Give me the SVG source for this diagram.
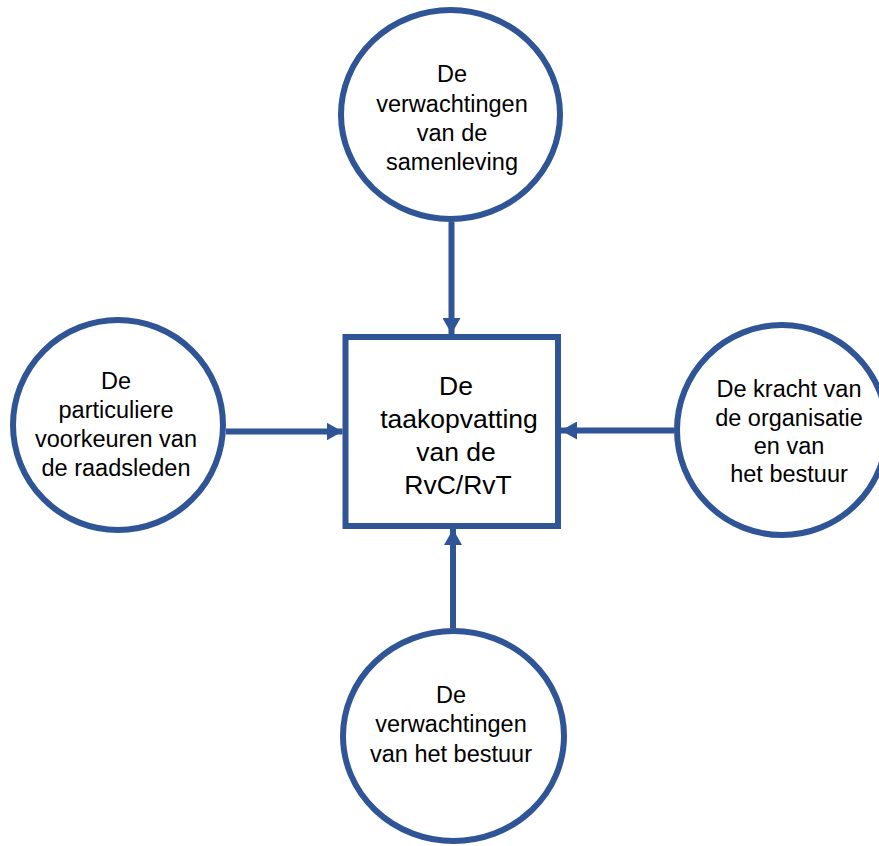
<svg xmlns="http://www.w3.org/2000/svg" width="879" height="846" viewBox="0 0 879 846">
<style>
.node{fill:#FFFFFF;stroke:#2F5597;stroke-width:6}
.t{font-family:"Liberation Sans",Arial,sans-serif;font-size:23.5px;fill:#000000;text-anchor:middle}
.tb{font-family:"Liberation Sans",Arial,sans-serif;font-size:26.5px;fill:#000000;text-anchor:middle}
.conn{stroke:#2F5597;stroke-width:6;fill:none}
</style>
<defs>
<marker id="arr" markerUnits="userSpaceOnUse" markerWidth="16" markerHeight="18" refX="16" refY="9" orient="auto" viewBox="0 0 16 18">
<path d="M0,0 L16,9 L0,18 z" fill="#2F5597"/>
</marker>
</defs>
<rect width="879" height="846" fill="#FFFFFF"/>
<g id="connectors">
<line class="conn" x1="451.5" y1="222" x2="451.5" y2="334" marker-end="url(#arr)"/>
<line class="conn" x1="226" y1="431.5" x2="342.5" y2="431.5" marker-end="url(#arr)"/>
<line class="conn" x1="674" y1="430.5" x2="561" y2="430.5" marker-end="url(#arr)"/>
<line class="conn" x1="453" y1="628" x2="453" y2="529" marker-end="url(#arr)"/>
</g>
<g id="node-center">
<rect class="node" x="345.5" y="337" width="212.5" height="189"/>
<text class="tb" x="456" y="395">De</text>
<text class="tb" x="459" y="428">taakopvatting</text>
<text class="tb" x="456" y="461">van de</text>
<text class="tb" x="458" y="494">RvC/RvT</text>
</g>
<g id="node-top">
<ellipse class="node" cx="450.5" cy="114.5" rx="109.5" ry="104.5"/>
<text class="t" x="452" y="82">De</text>
<text class="t" x="452" y="112">verwachtingen</text>
<text class="t" x="452" y="141">van de</text>
<text class="t" x="452" y="170">samenleving</text>
</g>
<g id="node-left">
<circle class="node" cx="118" cy="425" r="105"/>
<text class="t" x="116" y="389">De</text>
<text class="t" x="116" y="418">particuliere</text>
<text class="t" x="116" y="447">voorkeuren van</text>
<text class="t" x="116" y="476">de raadsleden</text>
</g>
<g id="node-right">
<circle class="node" cx="782" cy="430" r="105"/>
<text class="t" x="789" y="397">De kracht van</text>
<text class="t" x="789" y="426">de organisatie</text>
<text class="t" x="789" y="454">en van</text>
<text class="t" x="789" y="482">het bestuur</text>
</g>
<g id="node-bottom">
<ellipse class="node" cx="453.5" cy="736" rx="110.5" ry="105"/>
<text class="t" x="451" y="703">De</text>
<text class="t" x="451" y="732">verwachtingen</text>
<text class="t" x="451" y="762">van het bestuur</text>
</g>
</svg>
